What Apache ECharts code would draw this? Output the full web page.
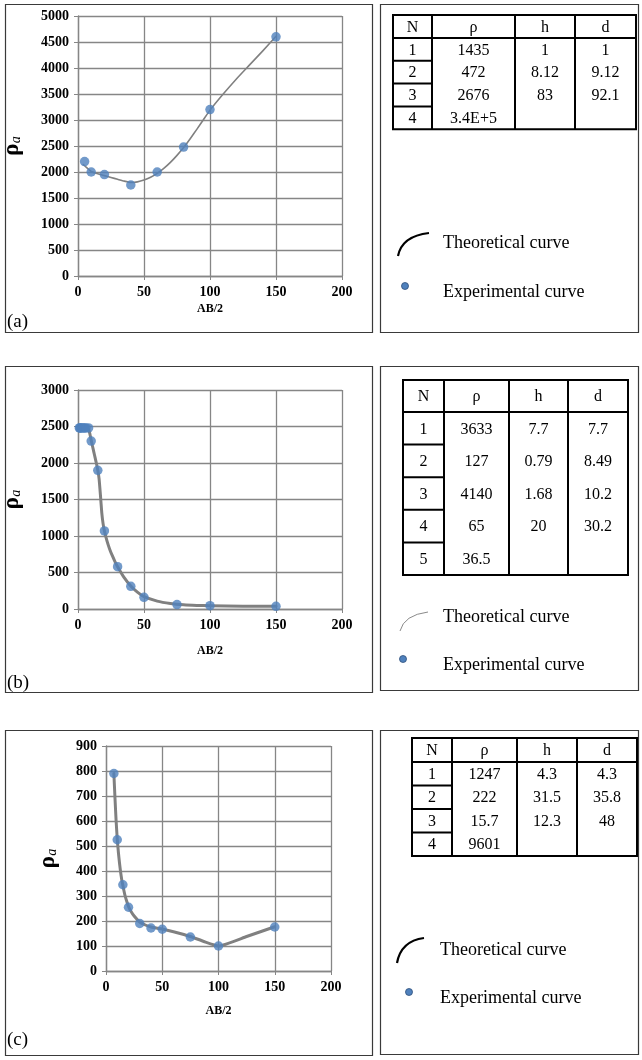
<!DOCTYPE html>
<html><head><meta charset="utf-8">
<script src="https://cdn.jsdelivr.net/npm/echarts@6/dist/echarts.min.js"></script>
<style>html,body{margin:0;padding:0;background:#fff}#c{width:642px;height:1060px}</style>
</head><body><div id="c"></div>
<script>
// ---------- DATA ----------
const xTicks = [0, 50, 100, 150, 200];
// Panel (a)
const abA = [5, 10, 20, 40, 60, 80, 100, 150];
const rhoA = [2200, 2000, 1950, 1750, 2000, 2480, 3200, 4600];
const theoAbA = [4, 5, 10, 15, 20, 25, 30, 35, 40, 45, 50, 55, 60, 65, 70, 75, 80, 85, 90, 95, 100, 110, 120, 130, 140, 150];
const theoRhoA = [2140, 2120, 2010, 1965, 1930, 1895, 1860, 1825, 1800, 1810, 1845, 1900, 1975, 2070, 2185, 2320, 2470, 2640, 2820, 3005, 3190, 3500, 3790, 4060, 4330, 4610];
const tableA = [['N','ρ','h','d'],['1','1435','1','1'],['2','472','8.12','9.12'],['3','2676','83','92.1'],['4','3.4E+5','','']];
// Panel (b)
const abB = [1, 1.5, 2, 3, 4, 5, 6, 8, 10, 15, 20, 30, 40, 50, 75, 100, 150];
const rhoB = [2480, 2480, 2480, 2480, 2480, 2480, 2480, 2480, 2300, 1900, 1070, 580, 310, 160, 60, 45, 36];
const theoAbB = [1, 2, 3, 4, 5, 6, 7, 8, 9, 10, 11, 12, 13, 14, 15, 16, 17, 18, 19, 20, 22, 24, 26, 28, 30, 35, 40, 45, 50, 60, 70, 80, 90, 100, 125, 150];
const theoRhoB = [2480, 2480, 2480, 2480, 2480, 2480, 2478, 2460, 2400, 2310, 2230, 2150, 2070, 1990, 1900, 1780, 1560, 1320, 1170, 1070, 930, 820, 730, 650, 580, 430, 315, 230, 168, 108, 76, 58, 49, 44, 39, 37];
const tableB = [['N','ρ','h','d'],['1','3633','7.7','7.7'],['2','127','0.79','8.49'],['3','4140','1.68','10.2'],['4','65','20','30.2'],['5','36.5','','']];
// Panel (c)
const abC = [7, 10, 15, 20, 30, 40, 50, 75, 100, 150];
const rhoC = [790, 525, 345, 255, 190, 172, 167, 136, 100, 176];
const theoAbC = [7, 8, 9, 10, 11, 12, 13, 14, 15, 16, 17, 18, 20, 22, 25, 30, 35, 40, 50, 60, 75, 87, 100, 125, 150];
const theoRhoC = [790, 690, 600, 528, 475, 432, 395, 365, 342, 320, 300, 285, 258, 240, 220, 196, 184, 176, 168, 157, 138, 118, 100, 138, 177];
const tableC = [['N','ρ','h','d'],['1','1247','4.3','4.3'],['2','222','31.5','35.8'],['3','15.7','12.3','48'],['4','9601','','']];
const legendTexts = ['Theoretical curve', 'Experimental curve'];
const panelLabels = ['(a)', '(b)', '(c)'];

// ---------- STYLE / LAYOUT ----------
const SERIF = "'Liberation Serif','Times New Roman',serif";
const GRAY = '#868686';
const BLUE = '#4f81bd';
const zip = (a, b) => a.map((v, i) => [v, b[i]]);

const grids = [
  {left: 78, top: 16, width: 264, height: 260},
  {left: 78, top: 390, width: 264, height: 219},
  {left: 106, top: 746, width: 225, height: 225}
];
const yCfg = [
  {max: 5000, interval: 500, nameGap: 54, xNameGap: 27},
  {max: 3000, interval: 500, nameGap: 54, xNameGap: 36},
  {max: 900, interval: 100, nameGap: 46, xNameGap: 34}
];
const lineW = [1.6, 3, 3];

const xAxes = grids.map((g, i) => ({
  gridIndex: i, type: 'value', min: 0, max: 200, interval: 50,
  name: 'AB/2', nameLocation: 'middle', nameGap: yCfg[i].xNameGap,
  nameTextStyle: {fontFamily: SERIF, fontWeight: 'bold', fontSize: 12, color: '#000'},
  axisLine: {show: true, onZero: false, lineStyle: {color: GRAY, width: 1.3}},
  axisTick: {show: true, length: 4, lineStyle: {color: GRAY}},
  axisLabel: {fontFamily: SERIF, fontWeight: 'bold', fontSize: 14, color: '#000', margin: 9,
    formatter: v => xTicks.includes(v) ? String(v) : ''},
  splitLine: {show: true, lineStyle: {color: GRAY, width: 1.3}}
}));
const yAxes = grids.map((g, i) => ({
  gridIndex: i, type: 'value', min: 0, max: yCfg[i].max, interval: yCfg[i].interval,
  name: '{r|ρ}{s|a}', nameLocation: 'middle', nameGap: yCfg[i].nameGap,
  nameTextStyle: {rich: {
    r: {fontFamily: SERIF, fontWeight: 'bold', fontSize: 23, color: '#000'},
    s: {fontFamily: SERIF, fontStyle: 'italic', fontSize: 14, color: '#000', padding: [8, 0, 0, 0]}
  }},
  axisLine: {show: true, lineStyle: {color: GRAY, width: 1.3}},
  axisTick: {show: true, length: 4, lineStyle: {color: GRAY}},
  axisLabel: {fontFamily: SERIF, fontWeight: 'bold', fontSize: 14, color: '#000', margin: 9,
    formatter: v => String(v)},
  splitLine: {show: true, lineStyle: {color: GRAY, width: 1.3}}
}));

const theo = [zip(theoAbA, theoRhoA), zip(theoAbB, theoRhoB), zip(theoAbC, theoRhoC)];
const expt = [zip(abA, rhoA), zip(abB, rhoB), zip(abC, rhoC)];
const series = [];
for (let i = 0; i < 3; i++) {
  series.push({type: 'line', xAxisIndex: i, yAxisIndex: i, data: theo[i], smooth: 0.15,
    showSymbol: false, lineStyle: {color: '#808080', width: lineW[i], join: 'round', cap: 'round'}, z: 2, silent: true});
  series.push({type: 'scatter', xAxisIndex: i, yAxisIndex: i, data: expt[i], symbolSize: 9.5,
    itemStyle: {color: BLUE}, z: 3, silent: true});
}

// ---------- GRAPHICS (boxes, tables, legends) ----------
const els = [];
function box(x, y, w, h) {
  els.push({type: 'rect', shape: {x, y, width: w, height: h}, style: {fill: 'none', stroke: '#3a3a3a', lineWidth: 1.2}, silent: true});
}
function line(x1, y1, x2, y2, w) {
  els.push({type: 'line', shape: {x1, y1, x2, y2}, style: {stroke: '#000', lineWidth: w || 2}, silent: true});
}
function text(str, x, y, size, align) {
  els.push({type: 'text', x, y, style: {text: str, fontFamily: SERIF, fontSize: size, fill: '#000',
    align: align || 'center', verticalAlign: 'middle'}, silent: true});
}
function table(data, L) {
  const W = L.cols.reduce((a, b) => a + b, 0);
  const H = L.head + L.row * (data.length - 1);
  els.push({type: 'rect', shape: {x: L.x, y: L.y, width: W, height: H}, style: {fill: 'none', stroke: '#000', lineWidth: 2}, silent: true});
  line(L.x, L.y + L.head, L.x + W, L.y + L.head);
  let cx = L.x;
  L.cols.forEach((w, c) => { if (c > 0) line(cx, L.y, cx, L.y + H); cx += w; });
  for (let r = 1; r < data.length - 1; r++) line(L.x, L.y + L.head + L.row * r, L.x + L.cols[0], L.y + L.head + L.row * r);
  data.forEach((rowArr, r) => {
    const cy = r === 0 ? L.y + L.head / 2 : L.y + L.head + L.row * (r - 0.5);
    let x0 = L.x;
    rowArr.forEach((s, c) => { if (s) text(s, x0 + L.cols[c] / 2, cy + 1, L.fs); x0 += L.cols[c]; });
  });
}
function legend(L) {
  els.push({type: 'bezierCurve', shape: {x1: L.ax1, y1: L.ay1, x2: L.ax2, y2: L.ay2, cpx1: L.ax1 + 4, cpy1: L.ay2 + 3},
    style: {stroke: L.arcColor, lineWidth: L.arcW, fill: 'none'}, silent: true});
  text(legendTexts[0], L.tx, L.ty1, 18, 'left');
  els.push({type: 'circle', shape: {cx: L.dx, cy: L.dy, r: 3.5}, style: {fill: BLUE, stroke: '#2f4f7a', lineWidth: 0.8}, silent: true});
  text(legendTexts[1], L.tx, L.ty2, 18, 'left');
}

// boxes
box(5.5, 4.5, 367, 328); box(380.5, 4.5, 258, 328);
box(5.5, 366.5, 367, 326); box(380.5, 366.5, 258, 324);
box(5.5, 730.5, 367, 325); box(380.5, 730.5, 258, 324);
// panel labels
text(panelLabels[0], 7, 322, 19, 'left');
text(panelLabels[1], 7, 683, 19, 'left');
text(panelLabels[2], 7, 1040, 19, 'left');
// tables
table(tableA, {x: 393, y: 15, cols: [39, 83, 60, 61], head: 23, row: 22.8, fs: 16});
table(tableB, {x: 403, y: 380, cols: [41, 65, 59, 60], head: 32, row: 32.6, fs: 16});
table(tableC, {x: 412, y: 738, cols: [40, 65, 60, 60], head: 24, row: 23.5, fs: 16});
// legends
legend({ax1: 398, ay1: 256, ax2: 429, ay2: 233, arcColor: '#000', arcW: 2.2, tx: 443, ty1: 243, dx: 405, dy: 286, ty2: 292});
legend({ax1: 400, ay1: 631, ax2: 428, ay2: 612, arcColor: '#8a8a8a', arcW: 1, tx: 443, ty1: 617, dx: 403, dy: 659, ty2: 665});
legend({ax1: 397, ay1: 963, ax2: 424, ay2: 938, arcColor: '#000', arcW: 2.2, tx: 440, ty1: 950, dx: 409, dy: 992, ty2: 998});

const chart = echarts.init(document.getElementById('c'), null, {renderer: 'canvas'});
chart.setOption({
  animation: false,
  backgroundColor: '#fff',
  grid: grids.map(g => Object.assign({containLabel: false}, g)),
  xAxis: xAxes,
  yAxis: yAxes,
  series,
  graphic: {elements: els}
});
</script></body></html>
